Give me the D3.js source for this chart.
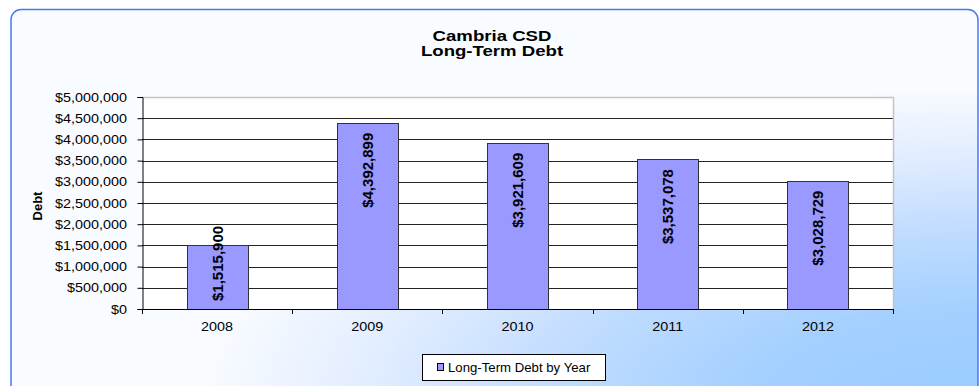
<!DOCTYPE html>
<html>
<head>
<meta charset="utf-8">
<script src="https://cdn.jsdelivr.net/npm/d3@7"></script>
<style>
  body { margin: 0; background: #fff; }
  svg { display: block; font-family: "Liberation Sans", Arial, sans-serif; }
</style>
</head>
<body>
<div id="chart"></div>
<script>
var years = ["2008", "2009", "2010", "2011", "2012"];
var debt = [1515900, 4392899, 3921609, 3537078, 3028729];
var yTicks = [0, 500000, 1000000, 1500000, 2000000, 2500000, 3000000, 3500000, 4000000, 4500000, 5000000];
var titleLines = ["Cambria CSD", "Long-Term Debt"];
var seriesName = "Long-Term Debt by Year";

function init(){
    var w = 979, h = 386;
    var left = 142, right = 893, top = 97, bottom = 309;
    var sx = 1.15; // text in the picture is a bit wide

    var svg = d3.select("#chart").append("svg")
        .attr("width", w).attr("height", h);

    var defs = svg.append("defs");
    var grad = defs.append("radialGradient")
        .attr("id", "bg")
        .attr("cx", 1).attr("cy", 1).attr("fx", 1).attr("fy", 1).attr("r", 0.8);
    grad.append("stop").attr("offset", 0).attr("stop-color", "#99ccff");
    grad.append("stop").attr("offset", 0.3).attr("stop-color", "#a4d0ff");
    grad.append("stop").attr("offset", 0.55).attr("stop-color", "#c0dcff");
    grad.append("stop").attr("offset", 0.78).attr("stop-color", "#e0ecff");
    grad.append("stop").attr("offset", 1).attr("stop-color", "#f8fbff");

    svg.append("rect")
        .attr("x", 11).attr("y", 9.5)
        .attr("width", 967).attr("height", 395)
        .attr("rx", 10)
        .attr("fill", "url(#bg)")
        .attr("stroke", "#4a78f0")
        .attr("stroke-width", 1.5);

    // title
    svg.append("g").selectAll("text")
        .data(titleLines)
        .join("text")
        .attr("transform", function(d, i){ return "translate(492," + (40.5 + i * 15.5) + ") scale(1.2,1)"; })
        .attr("text-anchor", "middle")
        .attr("font-size", 15.5)
        .attr("font-weight", "bold")
        .attr("fill", "#000")
        .text(function(d){ return d; });

    var xScale = d3.scaleBand()
        .domain(years)
        .range([left, right])
        .paddingInner(0.594)
        .paddingOuter(0.297);

    var yScale = d3.scaleLinear()
        .domain([0, 5000000])
        .range([bottom, top]);

    // plot area
    svg.append("rect")
        .attr("x", left).attr("y", top)
        .attr("width", right - left).attr("height", bottom - top)
        .attr("fill", "#fff");

    // gridlines
    svg.append("g").selectAll("line")
        .data(yTicks.filter(function(d){ return d > 0 && d < 5000000; }))
        .join("line")
        .attr("x1", left).attr("x2", right)
        .attr("y1", function(d){ return Math.round(yScale(d)) + 0.5; })
        .attr("y2", function(d){ return Math.round(yScale(d)) + 0.5; })
        .attr("stroke", "#222")
        .attr("stroke-width", 1);

    // plot border top/right
    svg.append("path")
        .attr("d", "M" + left + "," + (top + 0.5) + "H" + (right + 0.5) + "V" + bottom)
        .attr("fill", "none")
        .attr("stroke", "#c4c4c4")
        .attr("stroke-width", 1.5);

    // bars
    svg.append("g").selectAll("rect")
        .data(debt)
        .join("rect")
        .attr("x", function(d, i){ return Math.round(xScale(years[i])) + 0.5; })
        .attr("y", function(d){ return Math.round(yScale(d)) + 0.5; })
        .attr("width", Math.round(xScale.bandwidth()))
        .attr("height", function(d){ return bottom - Math.round(yScale(d)); })
        .attr("fill", "#9999ff")
        .attr("stroke", "#333")
        .attr("stroke-width", 1);

    // axes
    var yAxis = d3.axisLeft(yScale).tickValues(yTicks).tickSize(5).tickFormat("");
    svg.append("g")
        .attr("transform", "translate(" + (left + 0.5) + ",0)")
        .call(yAxis)
        .call(function(g){ g.selectAll("path, line").attr("stroke", "#000"); });

    svg.append("g").selectAll("g")
        .data(yTicks)
        .join("g")
        .attr("transform", function(d){ return "translate(127," + (yScale(d) + 4.5) + ") scale(" + sx + ",1)"; })
        .append("text")
        .attr("text-anchor", "end")
        .attr("font-size", 12.5)
        .attr("fill", "#000")
        .text(function(d){ return "$" + d3.format(",")(d); });

    var xAxis = svg.append("g");
    xAxis.append("line")
        .attr("x1", left).attr("x2", right + 1)
        .attr("y1", bottom + 0.5).attr("y2", bottom + 0.5)
        .attr("stroke", "#000");
    xAxis.selectAll("line.tick")
        .data(d3.range(years.length + 1))
        .join("line")
        .attr("class", "tick")
        .attr("x1", function(i){ return Math.round(left + i * xScale.step()) + 0.5; })
        .attr("x2", function(i){ return Math.round(left + i * xScale.step()) + 0.5; })
        .attr("y1", bottom).attr("y2", bottom + 5)
        .attr("stroke", "#000");
    xAxis.selectAll("g.lbl")
        .data(years)
        .join("g")
        .attr("class", "lbl")
        .attr("transform", function(d){ return "translate(" + (xScale(d) + xScale.bandwidth() / 2) + "," + (bottom + 22) + ") scale(" + sx + ",1)"; })
        .append("text")
        .attr("text-anchor", "middle")
        .attr("font-size", 12.5)
        .attr("fill", "#000")
        .text(function(d){ return d; });

    // y title
    svg.append("text")
        .attr("transform", "translate(42,206) rotate(-90)")
        .attr("text-anchor", "middle")
        .attr("font-size", 13)
        .attr("font-weight", "bold")
        .text("Debt");

    // value labels
    svg.append("g").selectAll("text")
        .data(debt)
        .join("text")
        .attr("font-size", 15)
        .attr("font-weight", "bold")
        .attr("fill", "#000")
        .attr("text-anchor", "end")
        .attr("dy", "0.36em")
        .text(function(d){ return "$" + d3.format(",")(d); })
        .attr("transform", function(d, i){
            var len = this.getComputedTextLength();
            var endY = Math.min(yScale(d) + 10, bottom - 8 - len);
            var cx = xScale(years[i]) + xScale.bandwidth() / 2;
            return "translate(" + cx + "," + endY + ") rotate(-90)";
        });

    // legend
    var lg = svg.append("g");
    lg.append("rect")
        .attr("x", 422.5).attr("y", 354.5)
        .attr("width", 183).attr("height", 26)
        .attr("fill", "#fff")
        .attr("stroke", "#000");
    lg.append("rect")
        .attr("x", 437.5).attr("y", 363.5)
        .attr("width", 6).attr("height", 7)
        .attr("fill", "#9999ff")
        .attr("stroke", "#000");
    lg.append("g")
        .attr("transform", "translate(448,372) scale(1.1,1)")
        .append("text")
        .attr("font-size", 12)
        .attr("fill", "#000")
        .text(seriesName);
}
window.onload = init;
</script>
</body>
</html>
